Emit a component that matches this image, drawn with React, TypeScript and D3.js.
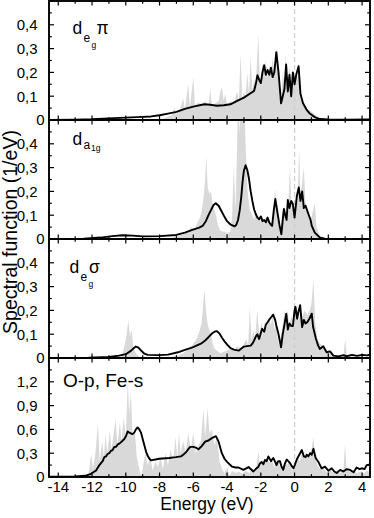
import React from "react";
import * as d3 from "d3";

type P = [number, number];

// Energy axis ticks (eV)
const xTickValues = [-14, -12, -10, -8, -6, -4, -2, 0, 2, 4];
const yTicksD = [0, 0.1, 0.2, 0.3, 0.4];
const yTickLabelsD = ["0", "0,1", "0,2", "0,3", "0,4"];
const yTicksO = [0, 0.3, 0.6, 0.9, 1.2];
const yTickLabelsO = ["0", "0,3", "0,6", "0,9", "1,2"];

// Panel 1: d_eg pi
const degPiLine: P[] = [[-14.55,0],[-13,0.001],[-12,0.003],[-11,0.007],[-10,0.01],[-9,0.013],[-8.5,0.015],[-8,0.02],[-7.5,0.027],[-7,0.034],[-6.5,0.047],[-6,0.056],[-5.35,0.066],[-5,0.064],[-4.6,0.06],[-4.2,0.062],[-3.8,0.066],[-3.4,0.08],[-3.0,0.094],[-2.7,0.108],[-2.4,0.122],[-2.3,0.15],[-2.2,0.188],[-2.1,0.17],[-2.0,0.155],[-1.9,0.2],[-1.8,0.23],[-1.7,0.19],[-1.6,0.21],[-1.5,0.19],[-1.4,0.22],[-1.3,0.18],[-1.2,0.2],[-1.08,0.285],[-0.95,0.2],[-0.8,0.07],[-0.7,0.1],[-0.6,0.13],[-0.5,0.233],[-0.4,0.12],[-0.3,0.19],[-0.2,0.1],[-0.1,0.2],[0,0.15],[0.1,0.19],[0.24,0.226],[0.35,0.11],[0.5,0.07],[0.7,0.045],[0.9,0.027],[1.2,0.012],[1.5,0.004],[2,0.002],[3,0.001],[4.5,0.002]];
const degPiFill: P[] = [[-14.55,0],[-8,0],[-7.6,0.01],[-7.3,0.02],[-7.1,0.05],[-7.0,0.025],[-6.8,0.045],[-6.6,0.09],[-6.5,0.045],[-6.3,0.15],[-6.2,0.055],[-6.0,0.18],[-5.9,0.06],[-5.7,0.075],[-5.5,0.06],[-5.3,0.08],[-5.1,0.06],[-5.0,0.13],[-4.9,0.06],[-4.7,0.07],[-4.5,0.08],[-4.4,0.12],[-4.3,0.14],[-4.2,0.08],[-4.1,0.11],[-4.0,0.06],[-3.8,0.08],[-3.6,0.07],[-3.4,0.12],[-3.3,0.08],[-3.2,0.28],[-3.1,0.09],[-3.0,0.12],[-2.9,0.1],[-2.8,0.2],[-2.7,0.11],[-2.6,0.27],[-2.5,0.12],[-2.4,0.17],[-2.3,0.14],[-2.15,0.36],[-2.05,0.15],[-1.9,0.24],[-1.8,0.2],[-1.7,0.25],[-1.6,0.18],[-1.5,0.23],[-1.4,0.2],[-1.3,0.26],[-1.2,0.2],[-1.1,0.27],[-1.0,0.21],[-0.9,0.1],[-0.8,0.08],[-0.7,0.2],[-0.6,0.15],[-0.55,0.28],[-0.45,0.16],[-0.3,0.22],[-0.2,0.13],[-0.1,0.21],[0,0.18],[0.1,0.2],[0.2,0.17],[0.25,0.24],[0.35,0.12],[0.5,0.08],[0.7,0.05],[0.9,0.04],[1.1,0.03],[1.3,0.015],[1.6,0.005],[2.0,0.002],[2.5,0],[4.5,0]];

// Panel 2: d_a1g
const da1gLine: P[] = [[-14.55,0],[-12.5,0.001],[-11.5,0.006],[-10.8,0.012],[-10.2,0.016],[-9.6,0.014],[-9,0.011],[-8,0.012],[-7,0.017],[-6.5,0.027],[-6.1,0.037],[-5.65,0.048],[-5.45,0.055],[-5.25,0.076],[-5.1,0.1],[-4.96,0.12],[-4.8,0.143],[-4.67,0.15],[-4.5,0.14],[-4.35,0.12],[-4.18,0.097],[-4.0,0.075],[-3.78,0.06],[-3.55,0.053],[-3.45,0.06],[-3.35,0.08],[-3.25,0.12],[-3.16,0.175],[-3.08,0.24],[-3.0,0.288],[-2.9,0.31],[-2.8,0.29],[-2.7,0.253],[-2.6,0.2],[-2.5,0.16],[-2.4,0.125],[-2.3,0.105],[-2.2,0.09],[-2.1,0.083],[-2.0,0.095],[-1.9,0.075],[-1.8,0.08],[-1.7,0.07],[-1.6,0.09],[-1.5,0.07],[-1.4,0.06],[-1.33,0.055],[-1.23,0.12],[-1.14,0.168],[-1.0,0.105],[-0.9,0.06],[-0.78,0.02],[-0.7,0.08],[-0.63,0.126],[-0.55,0.1],[-0.47,0.08],[-0.4,0.164],[-0.3,0.13],[-0.2,0.16],[-0.1,0.147],[0,0.09],[0.14,0.182],[0.25,0.217],[0.35,0.16],[0.45,0.2],[0.55,0.13],[0.65,0.14],[0.82,0.105],[0.95,0.08],[1.02,0.055],[1.2,0.027],[1.5,0.006],[1.8,0.001],[4.5,0]];
const da1gFill: P[] = [[-14.55,0],[-7.5,0],[-7.0,0.01],[-6.6,0.02],[-6.3,0.035],[-6.1,0.05],[-5.9,0.04],[-5.75,0.07],[-5.6,0.09],[-5.5,0.12],[-5.4,0.17],[-5.3,0.25],[-5.23,0.35],[-5.15,0.22],[-5.05,0.19],[-4.95,0.2],[-4.85,0.14],[-4.75,0.12],[-4.65,0.1],[-4.55,0.06],[-4.4,0.035],[-4.2,0.03],[-4.0,0.025],[-3.8,0.03],[-3.7,0.1],[-3.6,0.31],[-3.5,0.12],[-3.42,0.35],[-3.35,0.58],[-3.25,0.45],[-3.15,0.62],[-3.05,0.5],[-2.97,0.56],[-2.88,0.35],[-2.78,0.2],[-2.65,0.12],[-2.5,0.1],[-2.4,0.08],[-2.3,0.12],[-2.2,0.08],[-2.1,0.1],[-2.0,0.07],[-1.9,0.1],[-1.8,0.06],[-1.7,0.09],[-1.6,0.07],[-1.5,0.09],[-1.4,0.05],[-1.3,0.1],[-1.15,0.21],[-1.05,0.12],[-0.95,0.06],[-0.85,0.03],[-0.75,0.1],[-0.65,0.14],[-0.55,0.08],[-0.45,0.12],[-0.35,0.18],[-0.27,0.31],[-0.18,0.12],[-0.1,0.16],[0,0.1],[0.1,0.2],[0.18,0.15],[0.27,0.38],[0.35,0.18],[0.45,0.24],[0.55,0.3],[0.65,0.15],[0.75,0.12],[0.85,0.1],[0.95,0.08],[1.1,0.12],[1.2,0.15],[1.3,0.05],[1.5,0.015],[1.8,0.003],[2.2,0],[4.5,0]];

// Panel 3: d_eg sigma
const degSigLine: P[] = [[-14.55,0],[-12.2,0.001],[-11,0.004],[-10.4,0.01],[-10,0.016],[-9.7,0.03],[-9.5,0.043],[-9.4,0.048],[-9.25,0.044],[-9.1,0.032],[-8.9,0.018],[-8.7,0.013],[-8.0,0.012],[-7.5,0.014],[-6.9,0.024],[-6.5,0.034],[-6.04,0.045],[-5.55,0.06],[-5.35,0.07],[-5.16,0.083],[-5.0,0.095],[-4.86,0.105],[-4.7,0.112],[-4.6,0.113],[-4.45,0.103],[-4.3,0.085],[-4.15,0.07],[-3.98,0.055],[-3.8,0.042],[-3.6,0.035],[-3.3,0.031],[-3.15,0.04],[-3.0,0.048],[-2.8,0.05],[-2.6,0.052],[-2.5,0.06],[-2.4,0.073],[-2.3,0.09],[-2.2,0.1],[-2.1,0.08],[-2.0,0.105],[-1.92,0.123],[-1.8,0.11],[-1.7,0.14],[-1.6,0.15],[-1.53,0.158],[-1.4,0.17],[-1.27,0.182],[-1.15,0.16],[-1.08,0.137],[-0.95,0.1],[-0.8,0.045],[-0.7,0.1],[-0.6,0.14],[-0.49,0.186],[-0.4,0.12],[-0.3,0.145],[-0.2,0.135],[-0.1,0.134],[0,0.2],[0.05,0.215],[0.15,0.165],[0.25,0.2],[0.33,0.222],[0.45,0.13],[0.55,0.16],[0.65,0.145],[0.75,0.15],[0.88,0.165],[1.02,0.186],[1.1,0.13],[1.27,0.08],[1.4,0.052],[1.5,0.038],[1.7,0.049],[1.9,0.024],[2.1,0.028],[2.3,0.01],[2.6,0.007],[2.9,0.012],[3.1,0.008],[3.4,0.013],[3.7,0.009],[4.0,0.013],[4.3,0.011],[4.5,0.015]];
const degSigFill: P[] = [[-14.55,0],[-10.3,0],[-10.2,0.02],[-10.05,0.06],[-9.95,0.1],[-9.85,0.16],[-9.75,0.09],[-9.65,0.12],[-9.55,0.04],[-9.4,0.02],[-9.2,0.005],[-8.8,0.002],[-8,0],[-7.3,0.005],[-6.9,0.01],[-6.6,0.02],[-6.4,0.03],[-6.2,0.04],[-6.0,0.06],[-5.8,0.08],[-5.6,0.12],[-5.5,0.15],[-5.4,0.24],[-5.33,0.285],[-5.25,0.2],[-5.15,0.14],[-5.05,0.12],[-4.95,0.1],[-4.85,0.06],[-4.75,0.04],[-4.6,0.03],[-4.4,0.02],[-4.2,0.025],[-4.0,0.03],[-3.8,0.04],[-3.6,0.03],[-3.4,0.05],[-3.2,0.04],[-3.0,0.06],[-2.85,0.08],[-2.75,0.05],[-2.65,0.215],[-2.55,0.07],[-2.45,0.12],[-2.35,0.08],[-2.2,0.2],[-2.1,0.1],[-1.95,0.15],[-1.85,0.1],[-1.75,0.16],[-1.65,0.12],[-1.53,0.17],[-1.4,0.14],[-1.3,0.18],[-1.2,0.12],[-1.1,0.15],[-1.0,0.08],[-0.9,0.05],[-0.8,0.1],[-0.7,0.14],[-0.6,0.2],[-0.5,0.16],[-0.4,0.2],[-0.3,0.12],[-0.2,0.18],[-0.1,0.15],[0,0.2],[0.14,0.22],[0.25,0.16],[0.35,0.2],[0.45,0.17],[0.6,0.2],[0.75,0.18],[0.9,0.2],[1.0,0.23],[1.12,0.33],[1.22,0.15],[1.35,0.08],[1.5,0.06],[1.7,0.05],[1.9,0.03],[2.2,0.015],[2.6,0.01],[2.9,0.01],[3.0,0.08],[3.1,0.01],[3.5,0.005],[4.5,0.005]];

// Panel 4: O-p, Fe-s
const opLine: P[] = [[-14.55,0.005],[-13,0.008],[-12.4,0.015],[-12.06,0.04],[-11.76,0.083],[-11.6,0.14],[-11.47,0.175],[-11.37,0.2],[-11.27,0.25],[-11.17,0.26],[-11.08,0.29],[-10.98,0.3],[-10.88,0.33],[-10.78,0.34],[-10.68,0.38],[-10.58,0.38],[-10.48,0.41],[-10.38,0.42],[-10.28,0.44],[-10.18,0.46],[-10.08,0.48],[-9.98,0.52],[-9.89,0.575],[-9.8,0.56],[-9.7,0.55],[-9.6,0.54],[-9.5,0.56],[-9.4,0.6],[-9.3,0.625],[-9.2,0.6],[-9.1,0.56],[-9.0,0.48],[-8.9,0.4],[-8.8,0.32],[-8.71,0.27],[-8.6,0.23],[-8.51,0.21],[-8.02,0.23],[-7.43,0.24],[-7.03,0.25],[-6.73,0.26],[-6.6,0.28],[-6.44,0.31],[-6.3,0.35],[-6.18,0.38],[-6.0,0.38],[-5.85,0.37],[-5.69,0.35],[-5.5,0.39],[-5.3,0.445],[-5.1,0.46],[-4.9,0.49],[-4.66,0.515],[-4.5,0.445],[-4.31,0.3],[-4.15,0.23],[-4.0,0.19],[-3.7,0.13],[-3.5,0.12],[-3.32,0.12],[-3.03,0.09],[-2.73,0.125],[-2.44,0.07],[-2.3,0.1],[-2.14,0.13],[-2.05,0.17],[-1.95,0.19],[-1.85,0.16],[-1.75,0.215],[-1.65,0.2],[-1.55,0.26],[-1.4,0.2],[-1.26,0.24],[-1.15,0.19],[-1.07,0.15],[-0.97,0.2],[-0.87,0.2],[-0.77,0.13],[-0.67,0.09],[-0.57,0.17],[-0.47,0.22],[-0.37,0.2],[-0.27,0.175],[-0.17,0.14],[-0.07,0.11],[0.03,0.16],[0.13,0.22],[0.28,0.28],[0.43,0.34],[0.55,0.26],[0.65,0.25],[0.72,0.28],[0.82,0.26],[0.92,0.3],[1.02,0.28],[1.12,0.355],[1.25,0.24],[1.41,0.19],[1.6,0.11],[1.8,0.13],[2.0,0.08],[2.2,0.11],[2.35,0.07],[2.5,0.05],[2.7,0.09],[2.89,0.07],[3.1,0.1],[3.28,0.09],[3.5,0.06],[3.68,0.12],[3.85,0.1],[3.98,0.11],[4.15,0.1],[4.27,0.15],[4.5,0.16]];
const opFill: P[] = [[-14.55,0],[-12.3,0],[-12.2,0.05],[-12.05,0.29],[-11.95,0.1],[-11.8,0.3],[-11.65,0.67],[-11.55,0.2],[-11.4,0.45],[-11.3,0.25],[-11.2,0.54],[-11.1,0.3],[-10.95,0.58],[-10.85,0.35],[-10.75,0.5],[-10.6,0.73],[-10.5,0.4],[-10.35,0.69],[-10.25,0.45],[-10.12,0.75],[-10.0,0.5],[-9.88,1.22],[-9.8,0.8],[-9.7,1.06],[-9.6,0.55],[-9.45,0.54],[-9.35,0.25],[-9.2,0.1],[-9.1,0.02],[-9.0,0.1],[-8.85,0.3],[-8.7,0.15],[-8.55,0.25],[-8.4,0.08],[-8.25,0.2],[-8.1,0.12],[-7.95,0.25],[-7.8,0.1],[-7.65,0.3],[-7.5,0.15],[-7.35,0.35],[-7.2,0.2],[-7.05,0.5],[-6.95,0.25],[-6.85,0.55],[-6.75,0.3],[-6.6,0.45],[-6.45,0.3],[-6.3,0.55],[-6.15,0.35],[-6.0,0.55],[-5.85,0.3],[-5.7,0.4],[-5.55,0.45],[-5.4,0.86],[-5.3,0.5],[-5.15,0.88],[-5.05,0.55],[-4.9,0.6],[-4.75,0.4],[-4.6,0.5],[-4.45,0.2],[-4.3,0.1],[-4.15,0.05],[-4.0,0.12],[-3.85,0.02],[-3.7,0.08],[-3.5,0.05],[-3.3,0.07],[-3.1,0.04],[-2.9,0.08],[-2.7,0.05],[-2.5,0.1],[-2.3,0.08],[-2.14,0.32],[-2.05,0.12],[-1.9,0.22],[-1.8,0.15],[-1.65,0.25],[-1.5,0.18],[-1.35,0.22],[-1.2,0.12],[-1.05,0.2],[-0.9,0.15],[-0.75,0.1],[-0.6,0.2],[-0.45,0.15],[-0.3,0.2],[-0.15,0.08],[0,0.15],[0.15,0.25],[0.3,0.2],[0.45,0.3],[0.6,0.22],[0.75,0.3],[0.9,0.25],[1.0,0.35],[1.12,0.5],[1.22,0.25],[1.35,0.15],[1.5,0.1],[1.7,0.12],[1.9,0.06],[2.1,0.1],[2.3,0.05],[2.5,0.08],[2.7,0.05],[2.9,0.1],[2.99,0.42],[3.08,0.1],[3.3,0.06],[3.5,0.08],[3.7,0.05],[3.9,0.07],[4.1,0.05],[4.3,0.08],[4.5,0.06]];

const panels = [
  { id: "p1", line: degPiLine, fill: degPiFill, ymax: 0.5, ticks: yTicksD, labels: yTickLabelsD, minor: 0.05 },
  { id: "p2", line: da1gLine, fill: da1gFill, ymax: 0.5, ticks: yTicksD, labels: yTickLabelsD, minor: 0.05 },
  { id: "p3", line: degSigLine, fill: degSigFill, ymax: 0.5, ticks: yTicksD, labels: yTickLabelsD, minor: 0.05 },
  { id: "p4", line: opLine, fill: opFill, ymax: 1.5, ticks: yTicksO, labels: yTickLabelsO, minor: 0.15 },
];

const FONT = "'Liberation Sans', Arial, Helvetica, sans-serif";

export default function App() {
  const W = 374, H = 518;
  const left = 49, right = 370, top0 = 1, ph = 119;
  const x = d3.scaleLinear().domain([-14.55, 4.47]).range([left, right]);
  const xMinor = d3.range(-14, 5, 1);

  const panelLabel = (i: number, t: number) => {
    if (i === 0)
      return (
        <g fontFamily={FONT} fill="#000">
          <text x={72.5} y={t + 33} fontSize={17.5}>d</text>
          <text x={83.5} y={t + 40.5} fontSize={12}>e</text>
          <text x={91.5} y={t + 46.5} fontSize={8.5}>g</text>
          <text x={96.5} y={t + 33} fontSize={17.5}>π</text>
        </g>
      );
    if (i === 1)
      return (
        <g fontFamily={FONT} fill="#000">
          <text x={72.5} y={t + 25} fontSize={17.5}>d</text>
          <text x={83.5} y={t + 28.5} fontSize={12}>a</text>
          <text x={91} y={t + 30.5} fontSize={8.5}>1g</text>
        </g>
      );
    if (i === 2)
      return (
        <g fontFamily={FONT} fill="#000">
          <text x={69.5} y={t + 34} fontSize={17.5}>d</text>
          <text x={80.5} y={t + 41.5} fontSize={12}>e</text>
          <text x={88.5} y={t + 47.5} fontSize={8.5}>g</text>
          <text x={89} y={t + 34} fontSize={17.5}>σ</text>
        </g>
      );
    return (
      <text x={63} y={t + 29} fontSize={19} fontFamily={FONT} fill="#000">O-p, Fe-s</text>
    );
  };

  return (
    <svg width={W} height={H} style={{ position: "absolute", left: 0, top: 0, background: "#fff" }}>
      <defs>
        {panels.map((p, i) => (
          <clipPath id={`clip-${p.id}`} key={p.id}>
            <rect x={left} y={top0 + i * ph} width={right - left} height={ph} />
          </clipPath>
        ))}
      </defs>
      {panels.map((p, i) => {
        const t = top0 + i * ph;
        const b = t + ph;
        const y = d3.scaleLinear().domain([0, p.ymax]).range([b, t]);
        const area = d3.area<P>().x((d) => x(d[0])).y0(b).y1((d) => y(d[1]));
        const line = d3.line<P>().x((d) => x(d[0])).y((d) => y(d[1]));
        const yMinor = d3.range(0, p.ymax + 1e-9, p.minor);
        return (
          <g key={p.id}>
            <g clipPath={`url(#clip-${p.id})`}>
              <path d={area(p.fill) || ""} fill="#d9d9d9" stroke="none" />
              <line x1={x(0)} x2={x(0)} y1={t} y2={b} stroke="#cfcfcf" strokeWidth={1.3} strokeDasharray="5,3" />
              <path d={line(p.line) || ""} fill="none" stroke="#000" strokeWidth={1.9} strokeLinejoin="round" />
            </g>
            {xMinor.map((v) => {
              const len = v % 2 === 0 ? 4.5 : 2.8;
              return (
                <g key={`xt${v}`} stroke="#000" strokeWidth={1.2}>
                  <line x1={x(v)} x2={x(v)} y1={b} y2={b - len} />
                  <line x1={x(v)} x2={x(v)} y1={t} y2={t + len} />
                </g>
              );
            })}
            {yMinor.map((v, k) => {
              const len = k % 2 === 0 ? 5 : 2.8;
              return (
                <g key={`yt${k}`} stroke="#000" strokeWidth={1.2}>
                  <line x1={left} x2={left + len} y1={y(v)} y2={y(v)} />
                  <line x1={right} x2={right - len} y1={y(v)} y2={y(v)} />
                </g>
              );
            })}
            {p.ticks.map((v, k) => (
              <text key={`yl${k}`} x={k === 0 ? 44.5 : 37.5} y={y(v)} dy="0.36em" textAnchor="end" fontSize={15} fontFamily={FONT} fill="#000">
                {p.labels[k]}
              </text>
            ))}
            <rect x={left} y={t} width={right - left} height={ph} fill="none" stroke="#000" strokeWidth={1.9} />
            {panelLabel(i, t)}
          </g>
        );
      })}
      {xTickValues.map((v) => (
        <text key={`xl${v}`} x={x(v)} y={491.5} textAnchor="middle" fontSize={15} fontFamily={FONT} fill="#000">
          {String(v)}
        </text>
      ))}
      <text x={207} y={509.5} textAnchor="middle" fontSize={17.5} fontFamily={FONT} fill="#000">Energy (eV)</text>
      <text transform="translate(17,232) rotate(-90)" textAnchor="middle" fontSize={19.5} fontFamily={FONT} fill="#000">
        Spectral function (1/eV)
      </text>
    </svg>
  );
}
